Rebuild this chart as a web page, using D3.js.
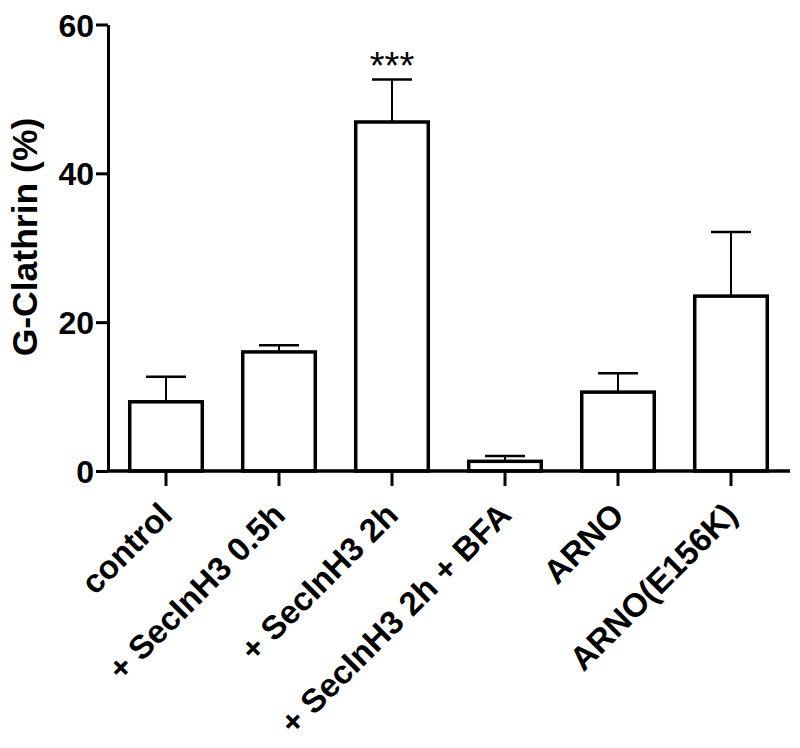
<!DOCTYPE html>
<html>
<head>
<meta charset="utf-8">
<script src="https://cdn.jsdelivr.net/npm/d3@7"></script>
<style>
  body { margin: 0; background: #fff; }
  svg { display: block; }
  text { font-family: "Liberation Sans", Arial, sans-serif; }
</style>
</head>
<body>
<svg id="chart" width="800" height="748"></svg>
<script>
const categories = ["control", "+ SecInH3 0.5h", "+ SecInH3 2h", "+ SecInH3 2h + BFA", "ARNO", "ARNO(E156K)"];
const means = [9.3, 16.0, 46.9, 1.3, 10.6, 23.5];
const errors = [3.35, 0.9, 5.7, 0.7, 2.55, 8.6];
const significance = ["", "", "***", "", "", ""];
const yTicks = [0, 20, 40, 60];
const yLabel = "G-Clathrin (%)";

const svg = d3.select("#chart");

const y = d3.scaleLinear().domain([0, 60]).range([471, 24.5]);
const x = d3.scaleBand().domain(categories).range([109.5, 787.5]).paddingInner(0.358).paddingOuter(0.179);

const data = categories.map((c, i) => ({ c, m: means[i], e: errors[i], s: significance[i] }));

// Bars
svg.append("g").selectAll("rect").data(data).join("rect")
  .attr("x", d => x(d.c))
  .attr("y", d => y(d.m))
  .attr("width", x.bandwidth())
  .attr("height", d => y(0) - y(d.m))
  .attr("fill", "#fff")
  .attr("stroke", "#000")
  .attr("stroke-width", 3.5);

// Error bars
const eb = svg.append("g").attr("stroke", "#000");
eb.selectAll("line.v").data(data).join("line").attr("class", "v")
  .attr("x1", d => x(d.c) + x.bandwidth() / 2)
  .attr("x2", d => x(d.c) + x.bandwidth() / 2)
  .attr("y1", d => y(d.m))
  .attr("y2", d => y(d.m + d.e))
  .attr("stroke-width", 2);
eb.selectAll("line.cap").data(data).join("line").attr("class", "cap")
  .attr("x1", d => x(d.c) + x.bandwidth() / 2 - 20)
  .attr("x2", d => x(d.c) + x.bandwidth() / 2 + 20)
  .attr("y1", d => y(d.m + d.e))
  .attr("y2", d => y(d.m + d.e))
  .attr("stroke-width", 2.5);

// Significance
svg.append("g").selectAll("text").data(data.filter(d => d.s)).join("text")
  .attr("x", d => x(d.c) + x.bandwidth() / 2)
  .attr("y", d => y(d.m + d.e) - 1)
  .attr("text-anchor", "middle")
  .attr("font-size", 38)
  .text(d => d.s);

// Y axis
const yAxis = svg.append("g")
  .attr("transform", "translate(108,0)")
  .call(d3.axisLeft(y).tickValues(yTicks).tickSize(12).tickSizeOuter(0).tickPadding(2).tickFormat(d3.format("d")));
yAxis.select(".domain").attr("stroke-width", 3);
yAxis.selectAll(".tick line").attr("stroke-width", 3);
yAxis.selectAll(".tick text").attr("font-size", 32).attr("font-weight", "bold").attr("fill", "#000")
  .attr("font-family", "'Liberation Sans', Arial, sans-serif")
  .attr("dy", "0.36em");

// X axis
const xAxis = svg.append("g")
  .attr("transform", "translate(0,471)")
  .call(d3.axisBottom(x).tickSize(15).tickSizeOuter(0));
xAxis.select(".domain").attr("d", "M108,0H790").attr("stroke-width", 3.5);
xAxis.selectAll(".tick line").attr("stroke-width", 3);
xAxis.selectAll(".tick text")
  .attr("font-size", 33).attr("font-weight", "bold").attr("fill", "#000")
  .attr("font-family", "'Liberation Sans', Arial, sans-serif")
  .attr("text-anchor", "end")
  .attr("dy", null)
  .attr("y", 0)
  .attr("transform", "translate(8,46) rotate(-45)");

// Y label
svg.append("text")
  .attr("transform", "translate(37,237) rotate(-90)")
  .attr("text-anchor", "middle")
  .attr("font-size", 35.5)
  .attr("font-weight", "bold")
  .text(yLabel);
</script>
</body>
</html>
